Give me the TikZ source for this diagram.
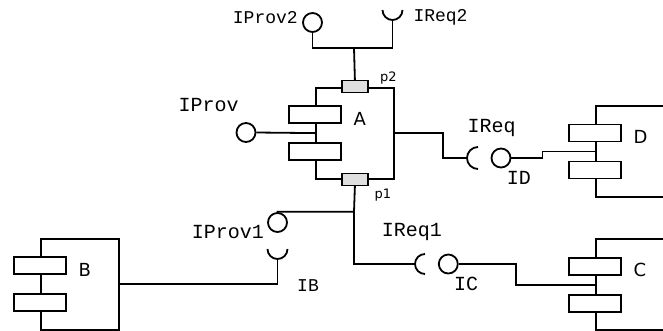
\documentclass[tikz,border=0pt]{standalone}
\usepackage{fontspec}
\setmainfont{DejaVu Sans}
\setmonofont{Liberation Mono}

\tikzset{
  wire/.style={line width=1.8pt},
  body/.style={draw, line width=1.8pt, anchor=north west, minimum width=78pt, minimum height=91pt, inner sep=0pt},
  tab/.style={draw, fill=white, line width=1.8pt, minimum width=52pt, minimum height=17pt, inner sep=0pt},
  port/.style={draw, fill=gray!25, line width=1.4pt, minimum width=26pt, minimum height=12pt, inner sep=0pt},
  lolli/.style={circle, draw, fill=white, line width=1.8pt, minimum size=19pt, inner sep=0pt},
  iface/.style={font=\ttfamily\fontsize{20}{20}\selectfont, inner sep=0pt, anchor=base west},
  ifacesmall/.style={iface, font=\ttfamily\fontsize{18}{18}\selectfont},
  cname/.style={font=\fontsize{18}{18}\selectfont, inner sep=0pt, anchor=base west},
  pname/.style={font=\fontsize{13}{13}\selectfont, inner sep=0pt, anchor=base west},
}

\newcommand{\umlcomp}[4]{%
  \node[body] (#1) at (#2,#3) {};
  \node[tab] (#1-t1) at ([yshift=-28pt]#1.north west) {};
  \node[tab] (#1-t2) at ([yshift=-65pt]#1.north west) {};
  \node[cname] (#1-name) at ([xshift=38.5pt,yshift=-38.3pt]#1.north west) {#4};
}

\begin{document}
\begin{tikzpicture}[x=1pt,y=-1pt]
\useasboundingbox (0,0) rectangle (663,330);

\umlcomp{A}{315}{86.7}{A}
\umlcomp{B}{40}{237.7}{B}
\umlcomp{C}{595}{238.3}{C}
\umlcomp{D}{595}{105}{D}

\node[port] (p2) at (A.north) {};
\node[port] (p1) at (A.south) {};
\node[pname] (p2-name) at (380,81.7) {p2};
\node[pname] (p1-name) at (374.3,198.3) {p1};

\node[lolli] (iprov2) at (312.5,22.5) {};
\node[lolli] (iprov) at (246,132.5) {};
\node[lolli] (id) at (501,158) {};
\node[lolli] (ic) at (448.3,264) {};
\node[lolli] (iprov1) at (277.5,222.5) {};

\coordinate (ireq2) at (392.5,20);
\coordinate (ireq) at (467,158);
\coordinate (ireq1) at (415,264);
\coordinate (ib) at (277.5,259);
\coordinate (j2) at (354,48);
\coordinate (j1) at (354,211.7);

\draw[wire] (ireq2) ++(-10pt,10pt) arc[start angle=180, end angle=360, radius=10pt];
\draw[wire] (ib) ++(-10pt,10pt) arc[start angle=180, end angle=360, radius=10pt];
\draw[wire] (ireq) ++(11pt,11pt) arc[start angle=90, end angle=270, radius=11pt];
\draw[wire] (ireq1) ++(10pt,10pt) arc[start angle=90, end angle=270, radius=10pt];

\draw[wire] (p2.north) -- (j2);
\draw[wire] (iprov2.south) |- (j2) -| (ireq2);
\draw[wire] (iprov.east) -- (A.west);
\draw[wire] (A.east) -- ++(48,0) |- (ireq);
\draw[wire] (id.east) -- ++(31,0) |- (D.west);
\draw[wire] (p1.south) -- (j1) -| (iprov1.north);
\draw[wire] (j1) |- (ireq1);
\draw[wire] (ic.east) -- ++(57,0) |- (C.west);
\draw[wire] (ib) |- (B.east);

\node[ifacesmall] (iprov2-name) at (232.7,23.3) {IProv2};
\node[ifacesmall] (ireq2-name) at (413.3,21.7) {IReq2};
\node[iface] (iprov-name) at (178.3,111.7) {IProv};
\node[iface] (ireq-name) at (467.3,132) {IReq};
\node[iface] (id-name) at (506.7,184.3) {ID};
\node[iface] (ireq1-name) at (381.7,236.7) {IReq1};
\node[iface] (ic-name) at (454,290.7) {IC};
\node[iface] (iprov1-name) at (191.7,238.3) {IProv1};
\node[ifacesmall] (ib-name) at (297,291) {IB};
\end{tikzpicture}
\end{document}
